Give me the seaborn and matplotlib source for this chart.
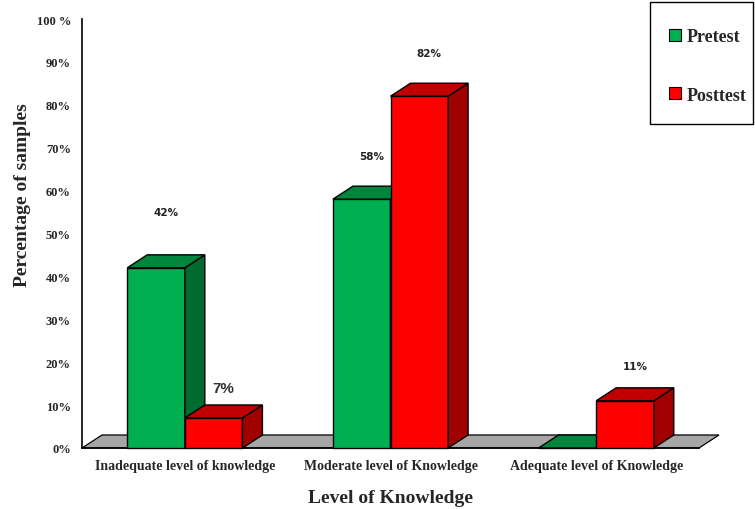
import matplotlib
matplotlib.use("Agg")
import matplotlib.pyplot as plt
from matplotlib.patches import Polygon, Patch, Rectangle
import seaborn as sns
import pandas as pd

# Knowledge levels and percentage of samples in each test
categories = ["Inadequate level of knowledge", "Moderate level of Knowledge",
              "Adequate level of Knowledge"]
tests = ["Pretest", "Posttest"]
pretest = [42, 58, 0]
posttest = [7, 82, 11]
yticks = [0, 10, 20, 30, 40, 50, 60, 70, 80, 90, 100]
ytick_labels = ["0%", "10%", "20%", "30%", "40%", "50%", "60%", "70%", "80%", "90%", "100 %"]

# face colours: front, top, side
front = {"Pretest": "#00B050", "Posttest": "#FF0000"}
top = {"Pretest": "#00863C", "Posttest": "#C00000"}
side = {"Pretest": "#006B2F", "Posttest": "#A00000"}

df = pd.DataFrame({
    "Knowledge": categories * 2,
    "Test": ["Pretest"] * 3 + ["Posttest"] * 3,
    "Percent": pretest + posttest,
})

sns.set_style("white")
serif = ["Liberation Serif", "DejaVu Serif"]

W, H = 755, 510
fig = plt.figure(figsize=(W / 100, H / 100), dpi=100)
ax_l, ax_r, ax_b, ax_t = 82, 699, 449, 20
ax = fig.add_axes([ax_l / W, 1 - ax_b / H, (ax_r - ax_l) / W, (ax_b - ax_t) / H])

sns.barplot(data=df, x="Knowledge", y="Percent", hue="Test", hue_order=tests,
            palette=[front[t] for t in tests], width=0.56, saturation=1,
            edgecolor="black", linewidth=1, legend=False, ax=ax, zorder=3)

ax.set_xlim(-0.5, 2.5)
ax.set_ylim(0, 100)

# depth of the 3-D extrusion, 20 px right and 13 px up, in data units
dx = 20 / ((ax_r - ax_l) / 3)
dy = 13 / ((ax_b - ax_t) / 100)

# grey floor
floor = Polygon([(-0.5, 0), (2.5, 0), (2.5 + dx, dy), (-0.5 + dx, dy)],
                closed=True, facecolor="#A6A6A6", edgecolor="black", lw=0.9,
                zorder=1, clip_on=False)
ax.add_patch(floor)

# top and side faces of each bar; bars drawn left to right so each front hides
# the side of the bar before it
bars = []
for t, cont in zip(tests, ax.containers):
    for rect in cont:
        bars.append((rect.get_x(), t, rect))
bars.sort(key=lambda b: b[0])
for k, (x0, t, rect) in enumerate(bars):
    z = 3 + k
    w = rect.get_width()
    h = rect.get_height()
    rect.set_zorder(z)
    rect.set_clip_on(False)
    top_face = Polygon([(x0, h), (x0 + w, h), (x0 + w + dx, h + dy), (x0 + dx, h + dy)],
                       closed=True, facecolor=top[t], edgecolor="black", lw=1,
                       zorder=z, clip_on=False)
    side_face = Polygon([(x0 + w, 0), (x0 + w + dx, dy), (x0 + w + dx, h + dy), (x0 + w, h)],
                        closed=True, facecolor=side[t], edgecolor="black", lw=1,
                        zorder=z, clip_on=False)
    ax.add_patch(side_face)
    ax.add_patch(top_face)

# value labels above the bars
label_lift = {("Pretest", 0): 13, ("Pretest", 1): 10, ("Posttest", 0): 7,
              ("Posttest", 1): 10, ("Posttest", 2): 8}
for t, cont, vals in zip(tests, ax.containers, [pretest, posttest]):
    for i, (rect, v) in enumerate(zip(cont, vals)):
        if v == 0:
            continue
        cx = rect.get_x() + rect.get_width() / 2 + dx / 2
        if t == "Posttest" and i == 0:
            ax.text(cx, v + label_lift[(t, i)], f"{v}%", ha="center", va="center",
                    fontsize=11, fontweight="bold", color="#333333",
                    family=["Liberation Sans", "DejaVu Sans"], zorder=20)
        else:
            ax.text(cx, v + label_lift[(t, i)], f"{v}%", ha="center", va="center",
                    fontsize=7.5, fontweight="bold", color="#222222",
                    family=["DejaVu Sans"], zorder=20)

# axes styling
for s in ["top", "right"]:
    ax.spines[s].set_visible(False)
for s in ["left", "bottom"]:
    ax.spines[s].set_color("black")
    ax.spines[s].set_linewidth(1.2)
    ax.spines[s].set_zorder(2)

ax.set_yticks(yticks)
ax.set_yticklabels(ytick_labels, family=serif, fontweight="bold", fontsize=9)
ax.tick_params(axis="y", direction="out", length=4, width=1, color="black", pad=4)

ax.set_xticks(range(3))
ax.set_xticklabels(categories, family=serif, fontweight="bold", fontsize=10)
ax.set_xticks([-0.5, 0.5, 1.5, 2.5], minor=True)
ax.tick_params(axis="x", which="major", length=0, pad=8)
ax.tick_params(axis="x", which="minor", direction="out", length=5, width=1,
               color="black")

ax.set_xlabel("Level of Knowledge", family=serif, fontweight="bold",
              fontsize=14, labelpad=12)
ax.set_ylabel("")
fig.text(23 / W, 1 - 195 / H, "Percentage of samples", rotation=90,
         ha="center", va="center", family=serif, fontweight="bold", fontsize=14)

# legend in the top-right corner, inside a plain black box
fig.add_artist(Rectangle((650 / W, 1 - 125 / H), 103 / W, 122 / H,
                         transform=fig.transFigure, facecolor="white",
                         edgecolor="black", lw=1, zorder=30))
handles = [Patch(facecolor=front[t], edgecolor="black", lw=0.8, label=t) for t in tests]
leg = fig.legend(handles=handles, loc="center",
                 bbox_to_anchor=(708 / W, 1 - 67 / H),
                 prop={"family": serif, "weight": "bold", "size": 13},
                 frameon=False, handlelength=0.65, handleheight=0.65,
                 handletextpad=0.3, labelspacing=2.3, borderpad=0,
                 borderaxespad=0)
leg.set_zorder(31)

fig.savefig("out.png", dpi=100)
